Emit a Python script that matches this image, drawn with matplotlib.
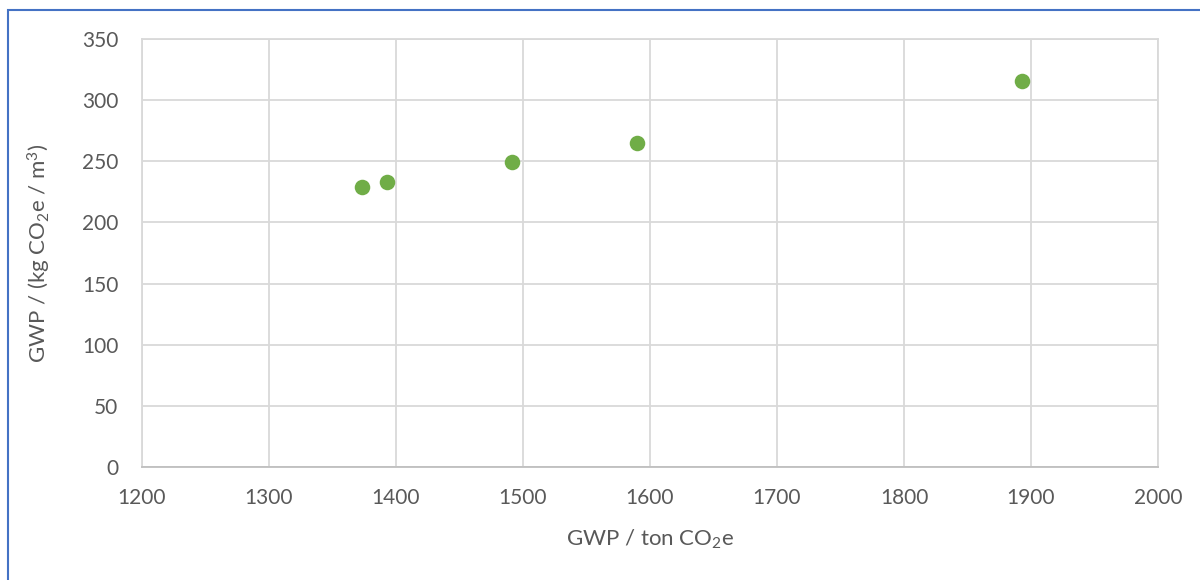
import matplotlib

matplotlib.use("Agg")
import matplotlib.pyplot as plt
from matplotlib.patches import Rectangle

# values
gwp_total = [1373, 1393, 1491, 1590, 1893]      # ton CO2e
gwp_per_m3 = [229, 233, 249, 265, 316]          # kg CO2e / m3
x_ticks = [1200, 1300, 1400, 1500, 1600, 1700, 1800, 1900, 2000]
y_ticks = [0, 50, 100, 150, 200, 250, 300, 350]

TEXT = "#595959"
GRID = "#d9d9d9"
GREEN = "#70ad47"

plt.rcParams["font.family"] = ["Lato", "DejaVu Sans"]
plt.rcParams["mathtext.fontset"] = "custom"
plt.rcParams["mathtext.rm"] = "Lato"
plt.rcParams["mathtext.it"] = "Lato"

fig = plt.figure(figsize=(12, 5.8), dpi=100)
ax = fig.add_axes([0.1183, 0.1948, 0.8467, 0.738])

ax.scatter(gwp_total, gwp_per_m3, s=125, color=GREEN, zorder=3, linewidths=0)

ax.set_xlim(x_ticks[0], x_ticks[-1])
ax.set_ylim(y_ticks[0], y_ticks[-1])
ax.set_xticks(x_ticks)
ax.set_yticks(y_ticks)
ax.grid(color=GRID, linewidth=1.3)
ax.tick_params(length=0, labelsize=15, colors=TEXT, pad=17)
ax.tick_params(axis="x", pad=15)
for side, spine in ax.spines.items():
    spine.set_color(GRID)
    spine.set_linewidth(1.3)
ax.spines["bottom"].set_color("#bfbfbf")

ax.set_xlabel("GWP / ton CO$_\\mathregular{2}$e", fontsize=16, color=TEXT, labelpad=14)
ax.set_ylabel("GWP / (kg CO$_\\mathregular{2}$e / m$^\\mathregular{3}$)", fontsize=16, color=TEXT, labelpad=21)

# outer chart frame (left and top edges visible)
fig.patches.append(Rectangle((8 / 1200, -0.1), 1.2, 1.1 - 10 / 580,
                             transform=fig.transFigure, fill=False,
                             edgecolor="#4472c4", linewidth=1.5))

fig.savefig("out.png", dpi=100)
plt.close(fig)
